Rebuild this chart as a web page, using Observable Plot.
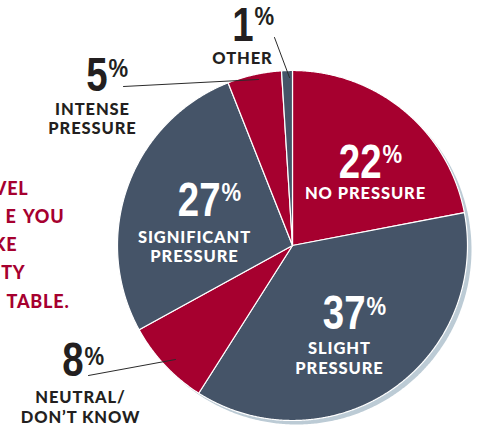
<!DOCTYPE html>
<html><head><meta charset="utf-8">
<script src="https://cdn.jsdelivr.net/npm/d3@7"></script>
<script src="https://cdn.jsdelivr.net/npm/@observablehq/plot@0.6"></script>
<style>
body{margin:0;background:#fff}
.lbl text{letter-spacing:0.9px}
.ttl text{letter-spacing:0.8px;word-spacing:2px}
</style>
</head><body><div id="chart"></div>
<script>
// ---- data ----
const categories = ["NO PRESSURE","SLIGHT PRESSURE","NEUTRAL/DON'T KNOW","SIGNIFICANT PRESSURE","INTENSE PRESSURE","OTHER"];
const values = [22, 37, 8, 27, 5, 1];
const sliceColors = ["#a6002f", "#455468", "#a6002f", "#455468", "#a6002f", "#455468"];
const labelLines = [["NO PRESSURE"], ["SLIGHT","PRESSURE"], ["NEUTRAL/","DON’T KNOW"], ["SIGNIFICANT","PRESSURE"], ["INTENSE","PRESSURE"], ["OTHER"]];
const titleFragments = ["VEL", "E YOU", "KE", "TY", "TABLE."];

// ---- layout (pixels) ----
const W = 477, H = 427, CX = 292, CY = 245, R = 175;
const P = (px, py) => ({x: (px - CX) / R, y: (CY - py) / R});
const layout = [
  {nx: 381, nb: 177, pb: 162, lx: 365, lb: 198, gap: 20, inside: true},
  {nx: 365, nb: 328, pb: 314, lx: 339, lb: 353, gap: 20, inside: true},
  {nx: 83,  nb: 375, pb: 364, lx: 80,  lb: 402, gap: 20, inside: false},
  {nx: 220, nb: 215, pb: 200, lx: 194, lb: 242, gap: 19, inside: true},
  {nx: 107, nb: 90,  pb: 76,  lx: 92,  lb: 114, gap: 19.5, inside: false},
  {nx: 253, nb: 40,  pb: 24,  lx: 242, lb: 63,  gap: 18, inside: false}
];
const leaders = [
  {i: 2, from: [88, 375], to: [175, 359]},
  {i: 4, from: [123, 86], to: [258, 79]},
  {i: 5, from: [274, 37], to: [289, 77]}
];
const titleLayout = [[28, 194], [64, 222], [17, 250], [25, 278], [69, 307]];

// ---- geometry from data ----
const arcs = d3.pie().sort(null).value(d => d)(values);
const slicePolys = arcs.map((a, i) => {
  const pts = [{x: 0, y: 0, i}];
  const n = Math.max(4, Math.ceil((a.endAngle - a.startAngle) / 0.005));
  for (let k = 0; k <= n; k++) {
    const t = a.startAngle + (a.endAngle - a.startAngle) * k / n;
    pts.push({x: Math.sin(t), y: Math.cos(t), i});
  }
  return pts;
});
const circle = d3.range(0, 721).map(k => ({x: Math.sin(k / 720 * 2 * Math.PI), y: Math.cos(k / 720 * 2 * Math.PI)}));

const numRows = values.map((v, i) => ({...P(layout[i].nx, layout[i].nb), t: String(v), i}));
const pctRows = values.map((v, i) => ({...P(layout[i].nx + 1, layout[i].pb), t: "%", i}));
const lblRows = labelLines.flatMap((ls, i) => ls.map((s, j) => ({...P(layout[i].lx, layout[i].lb + j * layout[i].gap), t: s, i})));
const leaderRows = leaders.flatMap(l => [{...P(...l.from), k: l.i}, {...P(...l.to), k: l.i}]);
const titleRows = titleFragments.map((s, j) => ({...P(...titleLayout[j]), t: s}));

const txtColor = i => layout[i].inside ? "white" : "#231f20";

const plot = Plot.plot({
  width: W, height: H, margin: 0,
  x: {domain: [-CX / R, (W - CX) / R], range: [0, W], axis: null},
  y: {domain: [-(H - CY) / R, CY / R], range: [H, 0], axis: null},
  style: {background: "white"},
  marks: [
    Plot.line(circle, {x: "x", y: "y", fill: "#bccbd5", stroke: "none", dx: 4, dy: 4, curve: "linear-closed"}),
    ...slicePolys.map((pts, i) => Plot.line(pts, {x: "x", y: "y", fill: sliceColors[i], stroke: "white", strokeWidth: 1.2, strokeLinejoin: "round", curve: "linear-closed"})),
    Plot.line(leaderRows, {x: "x", y: "y", z: "k", stroke: "#2b2b2b", strokeWidth: 1}),
    Plot.text(numRows, {x: "x", y: "y", text: "t", textAnchor: "end", lineAnchor: "bottom", fontSize: 48, fontWeight: 700, fontFamily: "Liberation Sans, Arial, sans-serif", fill: d => txtColor(d.i), className: "bignum"}),
    Plot.text(pctRows, {x: "x", y: "y", text: "t", textAnchor: "start", lineAnchor: "bottom", fontSize: 26, fontWeight: 700, fontFamily: "Liberation Sans, Arial, sans-serif", fill: d => txtColor(d.i), className: "pct"}),
    Plot.text(lblRows, {x: "x", y: "y", text: "t", textAnchor: "middle", lineAnchor: "bottom", fontSize: 16.5, fontWeight: 900, fontFamily: "Lato, sans-serif", fill: d => txtColor(d.i), className: "lbl"}),
    Plot.text(titleRows, {x: "x", y: "y", text: "t", textAnchor: "end", lineAnchor: "bottom", fontSize: 18, fontWeight: 900, fontFamily: "Lato, sans-serif", fill: "#a6002f", className: "ttl"})
  ]
});

function squeeze(sel, s) {
  plot.querySelectorAll(sel).forEach(el => {
    const tr = el.getAttribute("transform");
    if (tr && tr.includes("translate")) el.setAttribute("transform", tr + ` scale(${s},1)`);
    else {
      const x = +(el.getAttribute("x") || 0);
      el.setAttribute("transform", `translate(${x},0) scale(${s},1) translate(${-x},0)`);
    }
  });
}
squeeze("g.bignum text", 0.8);
squeeze("g.pct text", 0.85);
document.getElementById("chart").appendChild(plot);
</script>
</body></html>
